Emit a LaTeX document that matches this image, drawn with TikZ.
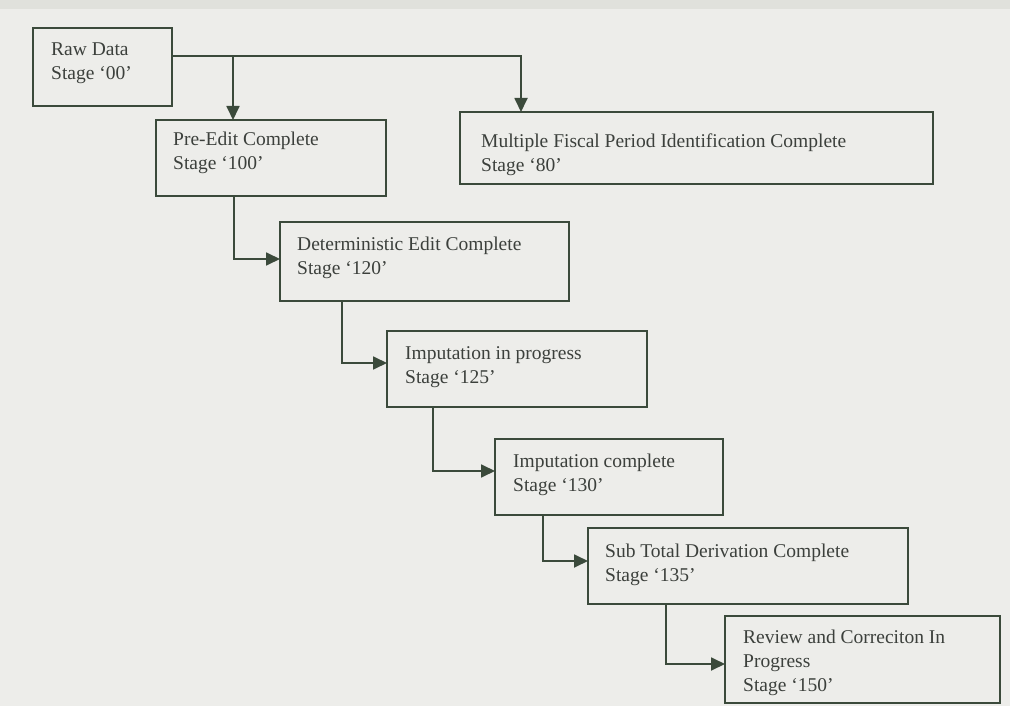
\documentclass[tikz,border=0pt]{standalone}
\usepackage{fontspec}
\setmainfont{Liberation Serif}
\usetikzlibrary{arrows.meta,calc}
\definecolor{paper}{HTML}{EDEDEA}
\definecolor{band}{HTML}{E0E1DC}
\definecolor{ink}{HTML}{3B4A3B}
\definecolor{txt}{HTML}{3C403C}
\newcommand{\stagetext}[1]{\begin{tabular}[t]{@{}l@{}}#1\end{tabular}}
\begin{document}
\begin{tikzpicture}[x=1pt,y=-1pt,
  stagebox/.style={draw=ink, line width=1.6pt, inner sep=0pt, outer sep=0pt, anchor=north west},
  lbl/.style={anchor=base west, inner sep=0pt, text=txt, font=\fontsize{19.5}{24}\selectfont},
  flow/.style={draw=ink, line width=1.8pt, -{Triangle[length=14pt,width=13pt]}}]

% page
\useasboundingbox (0,0) rectangle (1010,706);
\fill[paper] (0,0) rectangle (1010,706);
\fill[band] (0,0) rectangle (1010,9);

% stage boxes
\node[stagebox, minimum width=139pt, minimum height=78pt] (raw)   at (33,28)   {};
\node[stagebox, minimum width=230pt, minimum height=76pt] (pre)   at (156,120) {};
\node[stagebox, minimum width=473pt, minimum height=72pt] (multi) at (460,112) {};
\node[stagebox, minimum width=289pt, minimum height=79pt] (det)   at (280,222) {};
\node[stagebox, minimum width=260pt, minimum height=76pt] (imp)   at (387,331) {};
\node[stagebox, minimum width=228pt, minimum height=76pt] (impc)  at (495,439) {};
\node[stagebox, minimum width=320pt, minimum height=76pt] (sub)   at (588,528) {};
\node[stagebox, minimum width=275pt, minimum height=87pt] (rev)   at (725,616) {};

% labels
\node[lbl] (rawt)   at (51,56)   {\stagetext{Raw Data\\Stage ‘00’}};
\node[lbl] (pret)   at (173,146) {\stagetext{Pre-Edit Complete\\Stage ‘100’}};
\node[lbl] (multit) at (481,148) {\stagetext{Multiple Fiscal Period Identification Complete\\Stage ‘80’}};
\node[lbl] (dett)   at (297,251) {\stagetext{Deterministic Edit Complete\\Stage ‘120’}};
\node[lbl] (impt)   at (405,359) {\stagetext{Imputation in progress\\Stage ‘125’}};
\node[lbl] (impct)  at (513,467) {\stagetext{Imputation complete\\Stage ‘130’}};
\node[lbl] (subt)   at (605,557) {\stagetext{Sub Total Derivation Complete\\Stage ‘135’}};
\node[lbl] (revt)   at (743,643) {\stagetext{Review and Correciton In\\Progress\\Stage ‘150’}};

% connectors
\coordinate (split) at ($(raw.north east)+(0,28)$);
\coordinate (preIn) at ($(pre.north west)+(77,0)$);
\draw[flow] (split) -| ($(multi.north west)+(61,0)$);
\draw[flow] (split -| preIn) -- (preIn);
\draw[flow] ($(pre.south west)+(78,0)$)  |- ($(det.north west)+(0,37)$);
\draw[flow] ($(det.south west)+(62,0)$)  |- ($(imp.north west)+(0,32)$);
\draw[flow] ($(imp.south west)+(46,0)$)  |- ($(impc.north west)+(0,32)$);
\draw[flow] ($(impc.south west)+(48,0)$) |- ($(sub.north west)+(0,33)$);
\draw[flow] ($(sub.south west)+(78,0)$)  |- ($(rev.north west)+(0,48)$);
\end{tikzpicture}
\end{document}
